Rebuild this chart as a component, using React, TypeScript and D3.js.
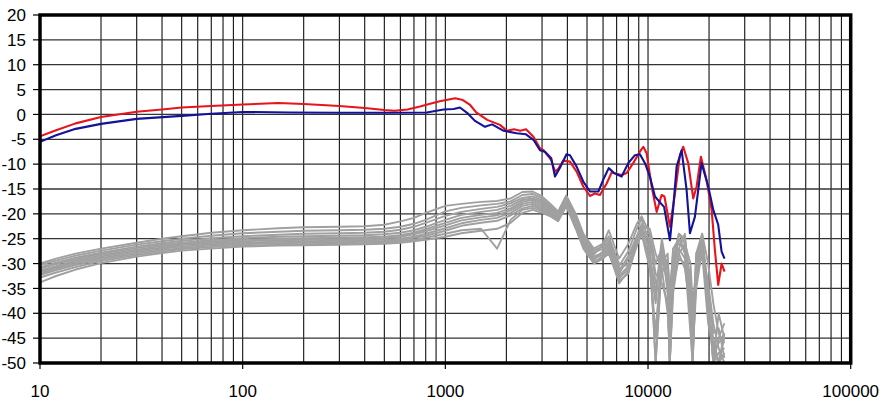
import * as d3 from "d3";
import React from "react";

const W = 889;
const H = 403;

const yTicks = d3.range(-50, 25, 5);
const xLabels = [10, 100, 1000, 10000, 100000];

// [Hz, dB]
const redCurve: [number, number][] = [
  [10, -4.4], [12, -3.2], [15, -1.8], [20, -0.5], [30, 0.55], [40, 1.0], [50, 1.4], [70, 1.7],
  [100, 2.0], [150, 2.3], [200, 2.1], [300, 1.7], [400, 1.3], [500, 0.9], [560, 0.75], [650, 1.0],
  [750, 1.6], [850, 2.2], [950, 2.7], [1010, 2.9], [1120, 3.25], [1220, 2.9], [1325, 1.9], [1420, 0.4],
  [1610, -1.1], [1860, -2.1], [2015, -3.3], [2180, -3.0], [2340, -3.3], [2500, -3.0], [2720, -4.5],
  [2930, -6.8], [3050, -7.2], [3330, -9.2], [3475, -11.5], [3600, -11.0], [3818, -9.3], [4120, -9.5],
  [4443, -11.5], [4790, -14.5], [5170, -16.4], [5470, -15.9], [5790, -16.2], [6250, -13.9],
  [6610, -11.7], [7410, -12.2], [7840, -11.8], [8450, -9.8], [9120, -7.5], [9480, -6.5], [9840, -7.8],
  [10420, -14.5], [11030, -19.6], [11670, -16.2], [12050, -16.5], [12830, -22.6], [13580, -15.9],
  [14370, -8.2], [14920, -6.5], [15790, -9.8], [16710, -16.9], [17370, -14.5], [18240, -8.5],
  [19450, -13.2], [20600, -19.2], [21380, -27.3], [22200, -34.3], [23070, -30.0], [23850, -31.6],
];

const blueCurve: [number, number][] = [
  [10, -5.5], [12, -4.2], [15, -2.9], [20, -1.9], [30, -0.9], [50, -0.3], [70, 0.15], [100, 0.5],
  [170, 0.4], [300, 0.35], [500, 0.35], [810, 0.4], [980, 1.0], [1100, 1.1], [1180, 1.4], [1290, 0.2],
  [1400, -1.3], [1570, -2.5], [1700, -2.0], [1940, -3.3], [2250, -3.8], [2500, -4.0], [2720, -5.1],
  [2930, -7.2], [3100, -7.5], [3330, -8.8], [3475, -12.5], [3700, -10.5], [3960, -8.0], [4120, -8.2],
  [4443, -10.5], [4790, -13.5], [5170, -15.5], [5690, -15.5], [6000, -13.2], [6400, -10.8],
  [6800, -11.8], [7410, -12.5], [7990, -9.8], [8620, -8.2], [9120, -8.0], [9660, -9.8],
  [10210, -12.5], [10820, -16.5], [11400, -17.6], [12000, -18.6], [12830, -25.3], [13330, -18.6],
  [13840, -10.5], [14650, -7.2], [15500, -15.2], [16100, -23.9], [17030, -20.6], [18370, -9.8],
  [19820, -14.5], [20990, -19.2], [22200, -22.2], [23070, -27.6], [23850, -29.0],
];

const greyFreq = [
  10, 12, 15, 20, 30, 40, 50, 70, 100, 150, 200, 300, 400, 500,
  600, 700, 800, 1000, 1200, 1500, 1800, 2100, 2400, 2700,
  3000, 3300, 3600, 3950, 4400, 4800, 5400, 6000, 6400, 7200, 8000, 8800, 9300,
  10200, 10900, 11700, 12500, 12800, 13300, 14200, 15200, 16200, 16600, 17300, 18500, 19800, 21000, 22300, 23800,
];

const grey0 = [
  -30.0, -29.0, -28.0, -27.0, -25.8, -25.0, -24.5, -23.8, -23.3, -22.9, -22.7, -22.6, -22.5, -22.2,
  -21.5, -20.8, -19.8, -18.4, -18.0, -17.6, -17.4, -16.9, -15.6, -15.5,
  -16.5, -18.0, -19.5, -16.3, -20.0, -24.0, -27.0, -26.0, -23.3, -29.0, -26.0, -22.0, -20.5,
  -24, -30, -27, -35, -50, -32, -24, -25, -34, -44, -28, -24, -30, -38, -44, -46,
];
const grey1 = [
  -30.3, -29.4, -28.4, -27.4, -26.2, -25.5, -25.0, -24.4, -23.9, -23.6, -23.4, -23.3, -23.2, -23.0,
  -22.6, -22.0, -21.2, -19.5, -18.8, -18.3, -18.0, -17.5, -16.2, -16.0,
  -16.9, -18.4, -19.8, -16.5, -20.4, -24.5, -27.4, -26.5, -24.5, -30.5, -27.5, -23.0, -21.0,
  -26, -50, -30, -28, -38, -27, -26, -27, -42, -50, -30, -25, -36, -50, -40, -45,
];
const grey2 = [
  -30.8, -29.8, -28.8, -27.8, -26.6, -25.9, -25.4, -24.9, -24.5, -24.2, -24.0, -23.9, -23.8, -23.6,
  -23.2, -22.6, -21.8, -20.4, -19.6, -19.0, -18.6, -17.9, -16.8, -16.5,
  -17.3, -18.7, -20.0, -16.8, -20.8, -25.0, -27.8, -27.0, -25.5, -31.5, -28.5, -24.5, -22.0,
  -28, -36, -25, -32, -50, -36, -28, -26, -30, -38, -32, -26, -40, -45, -50, -44,
];
const grey3 = [
  -31.0, -30.1, -29.1, -28.0, -26.9, -26.2, -25.8, -25.3, -24.9, -24.6, -24.5, -24.4, -24.3, -24.1,
  -23.8, -23.3, -22.6, -21.2, -20.2, -19.6, -19.2, -18.4, -17.2, -16.9,
  -17.6, -19.0, -20.3, -17.0, -21.2, -25.3, -28.2, -26.2, -25.0, -30.0, -30.5, -25.5, -22.5,
  -23, -28, -31, -40, -47, -30, -25, -28, -38, -48, -35, -27, -34, -42, -47, -50,
];
const grey4 = [
  -31.4, -30.5, -29.4, -28.3, -27.2, -26.5, -26.1, -25.6, -25.2, -25.0, -24.9, -24.8, -24.7, -24.6,
  -24.3, -23.8, -23.1, -21.8, -20.8, -20.2, -19.8, -18.9, -17.6, -17.2,
  -18.0, -19.3, -20.5, -17.3, -21.6, -25.7, -28.6, -27.8, -26.5, -32.0, -29.0, -25.0, -23.0,
  -30, -44, -28, -30, -36, -28, -27, -24, -36, -50, -29, -24, -38, -50, -45, -42,
];
const grey5 = [
  -31.7, -30.7, -29.7, -28.6, -27.4, -26.8, -26.3, -25.8, -25.5, -25.3, -25.2, -25.1, -25.0, -24.9,
  -24.6, -24.1, -23.5, -22.3, -21.3, -20.7, -20.3, -19.3, -18.0, -17.6,
  -18.4, -19.6, -20.8, -17.6, -22.0, -26.0, -29.0, -28.2, -27.0, -33.0, -31.0, -26.0, -24.0,
  -25, -32, -34, -38, -50, -34, -29, -30, -40, -46, -33, -28, -42, -47, -50, -48,
];
const grey6 = [
  -32.0, -31.0, -30.0, -28.9, -27.7, -27.0, -26.6, -26.1, -25.8, -25.6, -25.5, -25.4, -25.3, -25.2,
  -25.0, -24.6, -24.0, -22.9, -21.9, -21.2, -20.8, -19.8, -18.4, -18.0,
  -18.8, -19.8, -21.0, -17.8, -22.3, -26.3, -29.3, -27.5, -26.0, -31.0, -30.0, -25.5, -22.8,
  -27, -50, -29, -33, -42, -29, -24, -26, -35, -43, -28, -25, -35, -44, -43, -49,
];
const grey7 = [
  -32.3, -31.3, -30.3, -29.2, -28.0, -27.3, -26.9, -26.4, -26.1, -25.9, -25.8, -25.7, -25.6, -25.5,
  -25.2, -24.8, -24.4, -23.4, -22.4, -21.8, -21.4, -20.3, -18.9, -18.4,
  -19.1, -20.1, -21.2, -18.0, -22.6, -26.6, -29.6, -28.8, -27.5, -34.0, -31.5, -26.5, -24.0,
  -29, -38, -26, -36, -48, -31, -27, -29, -44, -50, -31, -26, -39, -48, -46, -44,
];
const grey8 = [
  -32.8, -31.8, -30.7, -29.5, -28.3, -27.6, -27.1, -26.7, -26.4, -26.2, -26.1, -26.0, -25.9, -25.8,
  -25.5, -25.2, -24.8, -24.0, -23.3, -23.0, -27.0, -21.2, -19.2, -18.8,
  -19.4, -20.3, -21.4, -18.2, -22.8, -26.8, -29.8, -28.5, -27.0, -32.5, -30.5, -25.5, -23.5,
  -24, -34, -32, -29, -39, -27, -25, -27, -33, -41, -34, -27, -37, -50, -48, -47,
];
const grey9 = [
  -33.8, -32.5, -31.2, -29.9, -28.6, -27.9, -27.4, -27.0, -26.6, -26.4, -26.3, -26.2, -26.1, -26.0,
  -25.8, -25.5, -25.2, -24.6, -23.9, -23.4, -23.0, -21.8, -19.8, -19.2,
  -19.8, -20.5, -21.5, -18.5, -23.0, -27.0, -30.0, -29.0, -28.0, -33.5, -32.0, -26.0, -24.0,
  -31, -45, -28, -34, -50, -33, -28, -31, -39, -47, -30, -25, -41, -46, -50, -45,
];
const greyCurves = [grey0, grey1, grey2, grey3, grey4, grey5, grey6, grey7, grey8, grey9];

export default function App() {
  const x = d3.scaleLog().domain([10, 100000]).range([40, 850.7]);
  const y = d3.scaleLinear().domain([-50, 20]).range([363, 15]);
  const [x0, x1] = x.range();
  const [y0, y1] = [y(20), y(-50)];

  const line = d3
    .line<[number, number]>()
    .x((d) => x(d[0]))
    .y((d) => y(d[1]));

  // every 1..9 multiple of each decade
  const vLines: number[] = [];
  [10, 100, 1000, 10000].forEach((dec) => {
    for (let m = 1; m < 10; m++) vLines.push(dec * m);
  });
  vLines.push(100000);

  const font = "'Liberation Sans', Arial, sans-serif";

  return (
    <svg
      width={W}
      height={H}
      style={{ position: "absolute", left: 0, top: 0, background: "#fff" }}
    >
      <defs>
        <clipPath id="plot">
          <rect x={x0} y={y0} width={x1 - x0} height={y1 - y0} />
        </clipPath>
      </defs>

      {vLines.map((f) => (
        <line key={"v" + f} x1={x(f)} x2={x(f)} y1={y0} y2={y1} stroke="#111" strokeWidth={1.1} />
      ))}
      {yTicks.map((t) => (
        <line key={"h" + t} x1={x0} x2={x1} y1={y(t)} y2={y(t)} stroke="#333" strokeWidth={1.3} />
      ))}

      <g clipPath="url(#plot)" fill="none" strokeLinejoin="round">
        {greyCurves.map((vals, i) => (
          <path
            key={"g" + i}
            d={line(greyFreq.map((f, j) => [f, vals[j]] as [number, number])) || ""}
            stroke="#a0a0a0"
            strokeWidth={1.9}
          />
        ))}
        <path d={line(redCurve) || ""} stroke="#e8141c" strokeWidth={2.1} />
        <path d={line(blueCurve) || ""} stroke="#12129a" strokeWidth={2.1} />
      </g>

      <rect x={x0} y={y0} width={x1 - x0} height={y1 - y0} fill="none" stroke="#000" strokeWidth={3.5} />

      {yTicks.map((t) => (
        <g key={"yt" + t}>
          <line x1={x0 - 7} x2={x0} y1={y(t)} y2={y(t)} stroke="#000" strokeWidth={1.2} />
          <text
            x={26}
            y={y(t)}
            dy="0.36em"
            textAnchor="end"
            fontFamily={font}
            fontSize={17}
            fill="#000"
          >
            {t}
          </text>
        </g>
      ))}
      {xLabels.map((f) => (
        <g key={"xt" + f}>
          <line x1={x(f)} x2={x(f)} y1={y1} y2={y1 + 6} stroke="#000" strokeWidth={1.2} />
          <text
            x={x(f)}
            y={397}
            textAnchor="middle"
            fontFamily={font}
            fontSize={17}
            fill="#000"
          >
            {f}
          </text>
        </g>
      ))}
    </svg>
  );
}
